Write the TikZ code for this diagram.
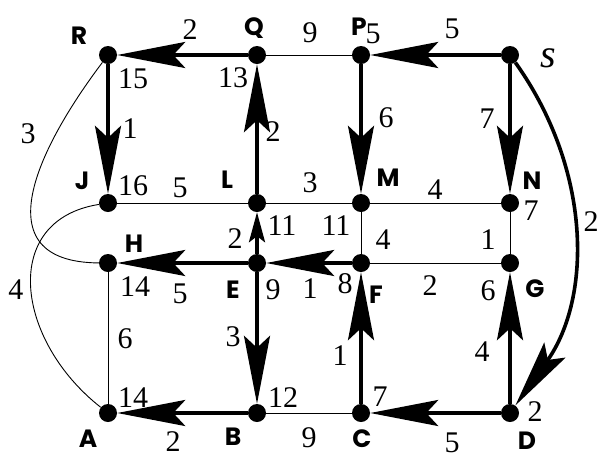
\documentclass[tikz,border=0pt]{standalone}
\usepackage{fontspec}
\setmainfont{Liberation Serif}
\newfontfamily\numfont{Liberation Serif}
\newfontfamily\labfont{Poppins}
\usetikzlibrary{arrows.meta}
\begin{document}
\begin{tikzpicture}[x=1pt,y=-1pt,
  vtx/.style={circle,fill=black,minimum size=18pt,inner sep=0pt},
  plainedge/.style={line width=0.9pt},
  treeedge/.style={line width=3.6pt,-{Stealth[length=68pt,width=26pt,inset=12pt]}},
  shortarrow/.style={line width=3.6pt,-{Stealth[length=30pt,width=16pt,inset=6pt]}},
  num/.style={font=\numfont\fontsize{30}{30}\selectfont,inner sep=0pt},
  lab/.style={font=\labfont\bfseries\fontsize{25}{25}\selectfont,inner sep=0pt}]
\useasboundingbox (0,0) rectangle (600,459);
% vertices
\node[vtx] (R) at (108,55) {};
\node[vtx] (Q) at (257,55) {};
\node[vtx] (P) at (361,55) {};
\node[vtx] (s) at (510,55) {};
\node[vtx] (J) at (108,203) {};
\node[vtx] (L) at (257,203) {};
\node[vtx] (M) at (361,203) {};
\node[vtx] (N) at (510,203) {};
\node[vtx] (H) at (108,263) {};
\node[vtx] (E) at (257,263) {};
\node[vtx] (F) at (361,263) {};
\node[vtx] (G) at (510,263) {};
\node[vtx] (A) at (108,413) {};
\node[vtx] (B) at (257,413) {};
\node[vtx] (C) at (361,413) {};
\node[vtx] (D) at (510,413) {};
% thin edges
\draw[plainedge] (Q) -- (P);
\draw[plainedge] (J) -- (L);
\draw[plainedge] (L) -- (M);
\draw[plainedge] (M) -- (N);
\draw[plainedge] (M) -- (F);
\draw[plainedge] (N) -- (G);
\draw[plainedge] (F) -- (G);
\draw[plainedge] (H) -- (A);
\draw[plainedge] (B) -- (C);
\draw[plainedge] (R) .. controls (40,145) and (-20,262) .. (H);
\draw[plainedge] (J) .. controls (0,220) and (15,340) .. (A);
% tree edges
\draw[treeedge] (Q) -- (R);
\draw[treeedge] (R) -- (J);
\draw[treeedge] (L) -- (Q);
\draw[shortarrow] (E) -- (L);
\draw[treeedge] (s) -- (P);
\draw[treeedge] (P) -- (M);
\draw[treeedge] (s) -- (N);
\draw[treeedge] (s) .. controls (592,170) and (592,298) .. (D);
\draw[treeedge] (F) -- (E);
\draw[treeedge] (E) -- (H);
\draw[treeedge] (E) -- (B);
\draw[treeedge] (B) -- (A);
\draw[treeedge] (C) -- (F);
\draw[treeedge] (D) -- (C);
\draw[treeedge] (D) -- (G);
% vertex names
\node[lab] (tR) at (79,36) {R};
\node[lab] (tQ) at (254,28) {Q};
\node[lab] (tP) at (359,27) {P};
\node[font=\numfont\itshape\fontsize{40}{40}\selectfont,inner sep=0pt] (ts) at (548,58) {s};
\node[lab] (tJ) at (82,181) {J};
\node[lab] (tL) at (227,180) {L};
\node[lab] (tM) at (388,178) {M};
\node[lab] (tN) at (532,181) {N};
\node[lab] (tH) at (134,244) {H};
\node[lab] (tE) at (233,290) {E};
\node[lab] (tF) at (376,295) {F};
\node[lab] (tG) at (535,289) {G};
\node[lab] (tA) at (88,439) {A};
\node[lab] (tB) at (233,437) {B};
\node[lab] (tC) at (362,439) {C};
\node[lab] (tD) at (527,441) {D};
% distances
\node[num] (dR) at (133,79) {15};
\node[num] (dQ) at (233,78) {13};
\node[num] (dP) at (373,34) {5};
\node[num] (dJ) at (133,186) {16};
\node[num] (dL) at (282,226) {11};
\node[num] (dM) at (336,226) {11};
\node[num] (dN) at (531,211) {7};
\node[num] (dH) at (135,287) {14};
\node[num] (dE) at (273,290) {9};
\node[num] (dF) at (345,284) {8};
\node[num] (dG) at (488,291) {6};
\node[num] (dA) at (133,398) {14};
\node[num] (dB) at (283,398) {12};
\node[num] (dC) at (380,397) {7};
\node[num] (dD) at (535,412) {2};
% edge weights
\node[num] (wQR) at (190,30) {2};
\node[num] (wQP) at (310,33) {9};
\node[num] (wsP) at (452,29) {5};
\node[num] (wRH) at (28,134) {3};
\node[num] (wRJ) at (130,129) {1};
\node[num] (wLQ) at (273,132) {2};
\node[num] (wPM) at (386,118) {6};
\node[num] (wsN) at (487,119) {7};
\node[num] (wsD) at (591,222) {2};
\node[num] (wJL) at (180,188) {5};
\node[num] (wLM) at (310,183) {3};
\node[num] (wMN) at (435,190) {4};
\node[num] (wMF) at (383,240) {4};
\node[num] (wNG) at (488,240) {1};
\node[num] (wEL) at (235,239) {2};
\node[num] (wEH) at (180,294) {5};
\node[num] (wFE) at (310,289) {1};
\node[num] (wFG) at (430,286) {2};
\node[num] (wJA) at (16,290) {4};
\node[num] (wHA) at (125,339) {6};
\node[num] (wEB) at (233,337) {3};
\node[num] (wCF) at (340,356) {1};
\node[num] (wDG) at (482,352) {4};
\node[num] (wBA) at (173,442) {2};
\node[num] (wBC) at (309,438) {9};
\node[num] (wDC) at (452,443) {5};
\end{tikzpicture}
\end{document}
